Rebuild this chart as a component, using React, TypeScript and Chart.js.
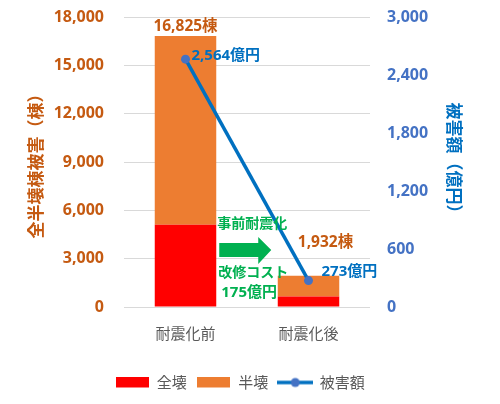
import { useEffect, useRef } from "react"
import { Chart, registerables } from "chart.js"

Chart.register(...registerables)

// data
const categories = ["耐震化前", "耐震化後"]
const totalCollapse = [5100, 650] // 全壊 (棟)
const halfCollapse = [11725, 1282] // 半壊 (棟)
const damageCost = [2564, 273] // 被害額 (億円)
const retrofitCost = 175 // 改修コスト (億円)
const leftTicks = [0, 3000, 6000, 9000, 12000, 15000, 18000]
const rightTicks = [0, 600, 1200, 1800, 2400, 3000]

const FONT = "'Noto Sans', 'Noto Sans CJK JP', sans-serif"
const CJK = "'Noto Sans CJK JP', sans-serif"
const RED = "#FF0000"
const ORANGE = "#ED7D31"
const ORANGE_TEXT = "#C55A11"
const BLUE = "#0070C0"
const BLUE_TICK = "#4472C4"
const GREEN = "#00B050"
const GRAY = "#595959"

// label offsets (px) from the mark they belong to
const totalLabelOffset = [
  { dx: 0, dy: -9 },
  { dx: 17, dy: -33 },
]
const costLabelOffset = [
  { dx: 6, dy: -3 },
  { dx: 13, dy: -9 },
]

const fmt = (v: number) => v.toLocaleString("en-US")

function makeIcon(kind: "box" | "line", color: string, dot = color) {
  const c = document.createElement("canvas")
  c.width = kind === "box" ? 33 : 36
  c.height = 12
  const g = c.getContext("2d")!
  if (kind === "box") {
    g.fillStyle = color
    g.fillRect(0, 0, 33, 11)
  } else {
    g.strokeStyle = color
    g.lineWidth = 3.5
    g.beginPath()
    g.moveTo(0, 6)
    g.lineTo(36, 6)
    g.stroke()
    g.fillStyle = dot
    g.beginPath()
    g.arc(18, 6, 4.5, 0, Math.PI * 2)
    g.fill()
  }
  return c
}

const annotations = {
  id: "annotations",
  afterDatasetsDraw(chart: any) {
    const ctx = chart.ctx as CanvasRenderingContext2D
    const bottom = chart.scales.y.bottom
    const fullMeta = chart.getDatasetMeta(0)
    const halfMeta = chart.getDatasetMeta(1)
    const lineMeta = chart.getDatasetMeta(2)
    ctx.save()
    ctx.textBaseline = "middle"

    // building totals above the bars
    ctx.font = `bold 15.5px ${FONT}`
    ctx.fillStyle = ORANGE_TEXT
    ctx.textAlign = "center"
    halfMeta.data.forEach((bar: any, i: number) => {
      const o = totalLabelOffset[i]
      ctx.fillText(fmt(totalCollapse[i] + halfCollapse[i]) + "棟", bar.x + o.dx, bar.y + o.dy)
    })

    // damage cost next to the points
    ctx.font = `bold 15px ${FONT}`
    ctx.fillStyle = BLUE
    ctx.textAlign = "left"
    lineMeta.data.forEach((pt: any, i: number) => {
      const o = costLabelOffset[i]
      ctx.fillText(fmt(damageCost[i]) + "億円", pt.x + o.dx, pt.y + o.dy)
    })

    // retrofit note with arrow between the bars
    const b0 = fullMeta.data[0]
    const x0 = b0.x + b0.width / 2
    ctx.fillStyle = GREEN
    ctx.font = `bold 14px ${FONT}`
    ctx.fillText("事前耐震化", x0 + 1, bottom - 83)
    ctx.fillText("改修コスト", x0 + 2, bottom - 34)
    ctx.font = `bold 15px ${FONT}`
    ctx.fillText(`${retrofitCost}億円`, x0 + 5, bottom - 14)

    const ay = bottom - 57
    ctx.beginPath()
    ctx.moveTo(x0 + 3, ay - 7)
    ctx.lineTo(x0 + 42, ay - 7)
    ctx.lineTo(x0 + 42, ay - 13)
    ctx.lineTo(x0 + 55, ay)
    ctx.lineTo(x0 + 42, ay + 14)
    ctx.lineTo(x0 + 42, ay + 7)
    ctx.lineTo(x0 + 3, ay + 7)
    ctx.closePath()
    ctx.fill()
    ctx.restore()
  },
}

export default function App() {
  const chartRef = useRef<HTMLCanvasElement>(null)
  const chartInstance = useRef<Chart | null>(null)

  useEffect(() => {
    if (!chartRef.current) return
    if (chartInstance.current) chartInstance.current.destroy()
    const ctx = chartRef.current.getContext("2d")
    if (!ctx) return

    const icons = [makeIcon("box", RED), makeIcon("box", ORANGE), makeIcon("line", BLUE, BLUE_TICK)]

    chartInstance.current = new Chart(ctx, {
      type: "bar",
      data: {
        labels: categories,
        datasets: [
          {
            label: "全壊",
            data: totalCollapse,
            backgroundColor: RED,
            yAxisID: "y",
            order: 1,
            barPercentage: 0.5,
            categoryPercentage: 1,
          },
          {
            label: "半壊",
            data: halfCollapse,
            backgroundColor: ORANGE,
            yAxisID: "y",
            order: 1,
            barPercentage: 0.5,
            categoryPercentage: 1,
          },
          {
            type: "line",
            label: "被害額",
            data: damageCost,
            borderColor: BLUE,
            backgroundColor: BLUE,
            borderWidth: 3.5,
            pointRadius: 4.5,
            pointBackgroundColor: BLUE_TICK,
            pointBorderWidth: 0,
            yAxisID: "y1",
            order: 0,
          } as any,
        ],
      },
      options: {
        animation: false,
        responsive: true,
        maintainAspectRatio: false,
        layout: { padding: { top: 17, right: 20, bottom: 4, left: 0 } },
        plugins: {
          tooltip: { enabled: false },
          legend: {
            position: "bottom",
            labels: {
              color: GRAY,
              font: { family: CJK, size: 15 },
              usePointStyle: true,
              pointStyleWidth: 34,
              boxHeight: 12,
              padding: 10,
              generateLabels: (chart: any) =>
                Chart.defaults.plugins.legend.labels
                  .generateLabels(chart)
                  .sort((a: any, b: any) => a.datasetIndex - b.datasetIndex)
                  .map((item: any) => ({ ...item, pointStyle: icons[item.datasetIndex] })),
            },
          },
        },
        scales: {
          x: {
            stacked: true,
            grid: { display: false, drawTicks: false },
            border: { display: false },
            ticks: {
              color: GRAY,
              padding: 17,
              font: { family: CJK, size: 15 },
            },
            afterFit: (scale: any) => {
              scale.height = 58
            },
          },
          y: {
            stacked: true,
            position: "left",
            min: 0,
            max: 18000,
            afterBuildTicks: (scale: any) => {
              scale.ticks = leftTicks.map((v) => ({ value: v }))
            },
            grid: { color: "#D9D9D9", drawTicks: false },
            border: { display: false },
            ticks: {
              color: ORANGE_TEXT,
              padding: 20,
              font: { family: FONT, size: 16, weight: "bold" },
              callback: (v: any) => fmt(Number(v)),
            },
            title: {
              display: true,
              text: "全半壊棟被害（棟）",
              color: ORANGE_TEXT,
              padding: { top: 25, bottom: 0 },
              font: { family: CJK, size: 17, weight: "bold" },
            },
            afterFit: (scale: any) => {
              scale.width = 124
              scale.paddingTop = 0
              scale.paddingBottom = 0
            },
          },
          y1: {
            position: "right",
            min: 0,
            max: 3000,
            afterBuildTicks: (scale: any) => {
              scale.ticks = rightTicks.map((v) => ({ value: v }))
            },
            grid: { display: false, drawTicks: false },
            border: { display: false },
            ticks: {
              color: BLUE_TICK,
              padding: 17,
              font: { family: FONT, size: 16, weight: "bold" },
              callback: (v: any) => fmt(Number(v)),
            },
            title: {
              display: true,
              text: "被害額（億円）",
              color: BLUE,
              padding: { top: 15, bottom: 0 },
              font: { family: CJK, size: 17, weight: "bold" },
            },
            afterFit: (scale: any) => {
              scale.width = 110
              scale.paddingTop = 0
              scale.paddingBottom = 0
            },
          },
        },
      },
      plugins: [annotations],
    } as any)

    return () => {
      if (chartInstance.current) {
        chartInstance.current.destroy()
        chartInstance.current = null
      }
    }
  }, [])

  return (
    <div style={{ position: "fixed", left: 0, top: 0, width: 500, height: 404, background: "#fff" }}>
      <canvas ref={chartRef} />
    </div>
  )
}
